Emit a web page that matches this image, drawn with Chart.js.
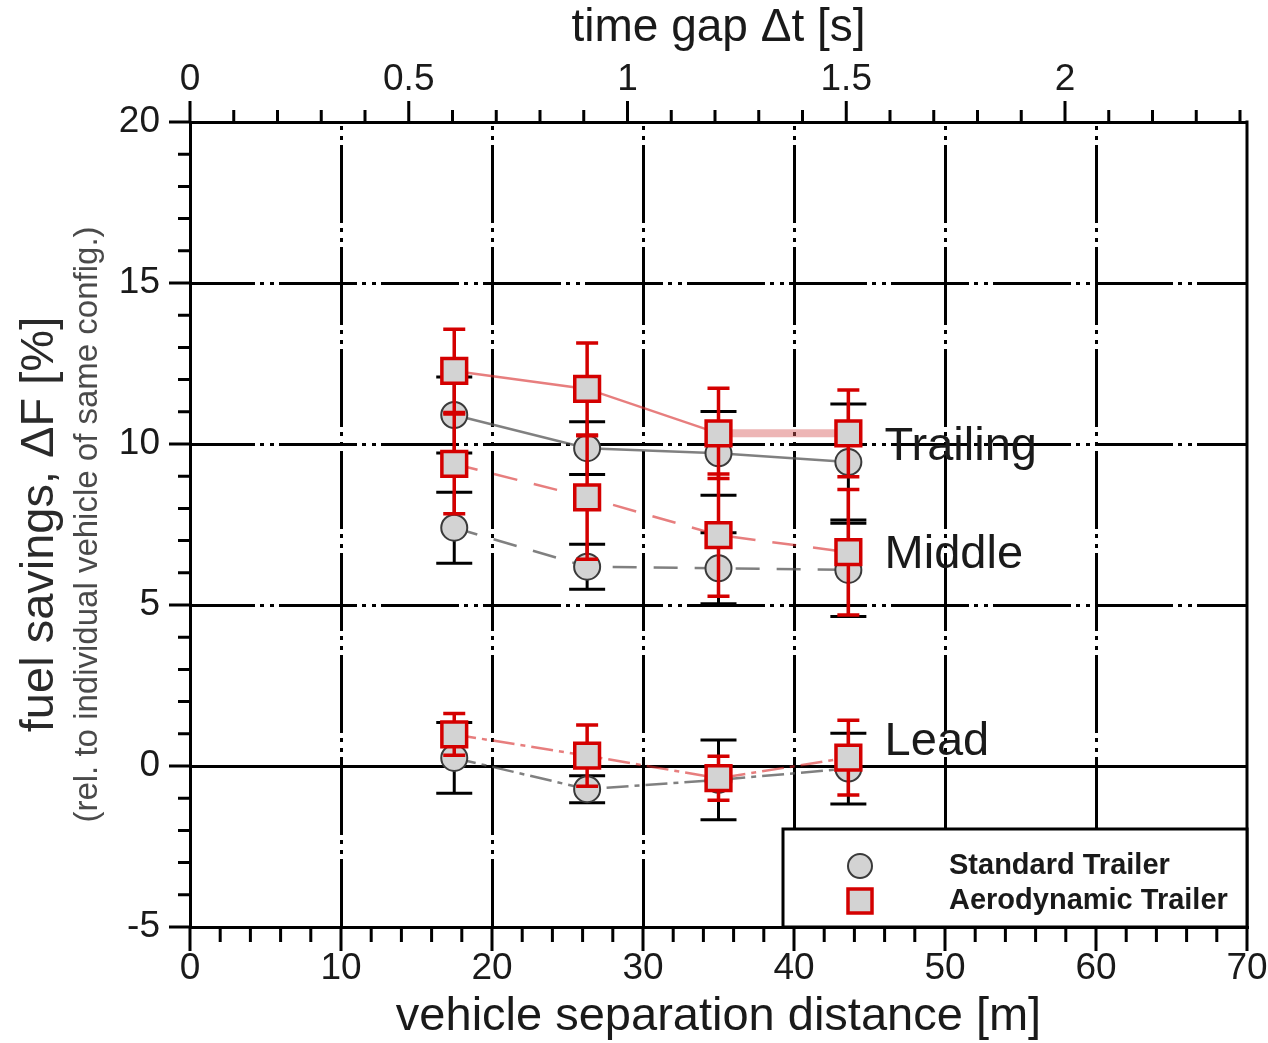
<!DOCTYPE html>
<html>
<head>
<meta charset="utf-8">
<title>fuel savings vs separation</title>
<script src="https://cdn.jsdelivr.net/npm/chart.js@4.4.1/dist/chart.umd.min.js"></script>
<style>
  html, body { margin: 0; padding: 0; background: #fff; }
  #wrap { width: 1268px; height: 1043px; }
</style>
</head>
<body>
<div id="wrap"><canvas id="fuelChart" width="1268" height="1043"></canvas></div>
<script>
// vehicle separation distance [m]
const distance = [17.5, 26.3, 35.0, 43.6];

// fuel savings [%] and error half-widths
const trailingStd = [10.9, 9.87, 9.71, 9.44];
const trailingStdErr = [1.18, 0.82, 1.3, 1.8];
const trailingAero = [12.27, 11.71, 10.33, 10.33];
const trailingAeroErr = [1.29, 1.43, 1.4, 1.35];

const middleStd = [7.4, 6.19, 6.14, 6.09];
const middleStdErr = [1.1, 0.7, 1.1, 1.45];
const middleAero = [9.38, 8.34, 7.17, 6.64];
const middleAeroErr = [1.55, 1.92, 1.9, 1.95];

const leadStd = [0.25, -0.72, -0.43, -0.08];
const leadStdErr = [1.1, 0.42, 1.24, 1.1];
const leadAero = [0.98, 0.32, -0.38, 0.26];
const leadAeroErr = [0.65, 0.95, 0.68, 1.16];

// axis ticks
const xTicks = [0, 10, 20, 30, 40, 50, 60, 70];
const yTicks = [-5, 0, 5, 10, 15, 20];
const timeTicks = [0, 0.5, 1, 1.5, 2];
const timeMax = 2.416;

// group labels, anchored in data units
const groupLabels = ['Trailing', 'Middle', 'Lead'];
const groupLabelY = [9.5, 6.15, 0.34];
const groupLabelX = 46.0;

const legendLabels = ['Standard Trailer', 'Aerodynamic Trailer'];

const RED = '#d40000';
const FILL = '#d3d3d3';
const GRID_DASH = [78, 5, 4, 6, 4, 5];
const FONT = "'Liberation Sans', Arial, Helvetica, sans-serif";

Chart.defaults.font.family = FONT;
Chart.defaults.color = '#1a1a1a';

function pts(ys) {
  return distance.map((x, i) => ({ x: x, y: ys[i] }));
}

function stdSet(label, ys, errs, dash) {
  return {
    label: label, data: pts(ys), errors: errs, barColor: '#000', capHalf: 18, barWidth: 3,
    borderColor: 'rgba(85,85,85,0.75)', borderWidth: 2.5, borderDash: dash,
    pointStyle: 'circle', pointRadius: 13, pointBackgroundColor: FILL,
    pointBorderColor: '#3a3a3a', pointBorderWidth: 2, order: 2
  };
}

function aeroSet(label, ys, errs, dash) {
  return {
    label: label, data: pts(ys), errors: errs, barColor: RED, capHalf: 11, barWidth: 3.5,
    borderColor: 'rgba(215,40,40,0.6)', borderWidth: 2.5, borderDash: dash,
    pointStyle: 'rect', pointRadius: 17.5, pointBackgroundColor: FILL,
    pointBorderColor: RED, pointBorderWidth: 3.5, order: 1
  };
}

const trailAero = aeroSet('Trailing aero', trailingAero, trailingAeroErr, []);
// flat segment shows as a wide pale band in the original
trailAero.segment = {
  borderWidth: c => c.p0.parsed.y === c.p1.parsed.y ? 8 : undefined,
  borderColor: c => c.p0.parsed.y === c.p1.parsed.y ? 'rgba(215,90,90,0.45)' : undefined
};

const datasets = [
  stdSet('Trailing std', trailingStd, trailingStdErr, []),
  stdSet('Middle std', middleStd, middleStdErr, [24, 17]),
  stdSet('Lead std', leadStd, leadStdErr, [22, 6, 5, 6]),
  trailAero,
  aeroSet('Middle aero', middleAero, middleAeroErr, [24, 17]),
  aeroSet('Lead aero', leadAero, leadAeroErr, [22, 6, 5, 6])
];

// error bars under each dataset's line and markers
const errorBars = {
  id: 'errorBars',
  beforeDatasetDraw(chart, args) {
    const ds = chart.data.datasets[args.index];
    if (!ds.errors) return;
    const ctx = chart.ctx;
    const y = chart.scales.y;
    ctx.save();
    ctx.strokeStyle = ds.barColor;
    ctx.lineWidth = ds.barWidth;
    ctx.setLineDash([]);
    args.meta.data.forEach((pt, i) => {
      const v = ds.data[i].y;
      const e = ds.errors[i];
      const yt = y.getPixelForValue(v + e);
      const yb = y.getPixelForValue(v - e);
      ctx.beginPath();
      ctx.moveTo(pt.x, yt); ctx.lineTo(pt.x, yb);
      ctx.moveTo(pt.x - ds.capHalf, yt); ctx.lineTo(pt.x + ds.capHalf, yt);
      ctx.moveTo(pt.x - ds.capHalf, yb); ctx.lineTo(pt.x + ds.capHalf, yb);
      ctx.stroke();
    });
    ctx.restore();
  }
};

// minor/major tick marks, right frame, y titles, group labels, legend box
const decorations = {
  id: 'decorations',
  afterDraw(chart) {
    const { ctx, chartArea: a, scales } = chart;
    const sx = scales.x, sy = scales.y, st = scales.x2;
    ctx.save();
    ctx.strokeStyle = '#000';
    ctx.lineWidth = 3;
    ctx.setLineDash([]);
    ctx.beginPath();
    for (let v = -5; v <= 20; v += 1) {
      const p = sy.getPixelForValue(v);
      const len = v % 5 === 0 ? 21 : 12;
      ctx.moveTo(a.left, p); ctx.lineTo(a.left - len, p);
    }
    for (let v = 0; v <= 70; v += 2) {
      const p = sx.getPixelForValue(v);
      const len = v % 10 === 0 ? 24 : 15;
      ctx.moveTo(p, a.bottom); ctx.lineTo(p, a.bottom + len);
    }
    for (let k = 0; k <= 24; k++) {
      const v = k / 10;
      const p = st.getPixelForValue(v);
      const len = k % 5 === 0 ? 21 : 12;
      ctx.moveTo(p, a.top); ctx.lineTo(p, a.top - len);
    }
    ctx.moveTo(a.right, a.top - 1.5); ctx.lineTo(a.right, a.bottom + 1.5);
    ctx.stroke();

    // y titles
    const cy = (a.top + a.bottom) / 2;
    ctx.save();
    ctx.translate(40, cy);
    ctx.rotate(-Math.PI / 2);
    ctx.textAlign = 'center';
    ctx.textBaseline = 'middle';
    ctx.fillStyle = '#2a2a2a';
    ctx.font = '47px ' + FONT;
    ctx.fillText('fuel savings, \u0394F [%]', 0, 0);
    ctx.restore();
    ctx.save();
    ctx.translate(88, cy);
    ctx.rotate(-Math.PI / 2);
    ctx.textAlign = 'center';
    ctx.textBaseline = 'middle';
    ctx.fillStyle = '#4a4a4a';
    ctx.font = '33px ' + FONT;
    ctx.fillText('(rel. to individual vehicle of same config.)', 0, 0);
    ctx.restore();

    // group labels
    ctx.fillStyle = '#1a1a1a';
    ctx.font = '47px ' + FONT;
    ctx.textAlign = 'left';
    ctx.textBaseline = 'alphabetic';
    groupLabels.forEach((t, i) => {
      ctx.fillText(t, sx.getPixelForValue(groupLabelX), sy.getPixelForValue(groupLabelY[i]));
    });

    // legend box
    const bx = 783, by = 829;
    ctx.fillStyle = '#fff';
    ctx.fillRect(bx, by, a.right - bx, a.bottom - by);
    ctx.strokeStyle = '#000';
    ctx.lineWidth = 3;
    ctx.strokeRect(bx, by, a.right - bx, a.bottom - by);

    ctx.beginPath();
    ctx.arc(860, 866, 12, 0, Math.PI * 2);
    ctx.fillStyle = FILL; ctx.fill();
    ctx.lineWidth = 2; ctx.strokeStyle = '#3a3a3a'; ctx.stroke();

    ctx.fillStyle = FILL;
    ctx.fillRect(848, 889, 24, 24);
    ctx.lineWidth = 3.5; ctx.strokeStyle = RED;
    ctx.strokeRect(848, 889, 24, 24);

    ctx.fillStyle = '#1a1a1a';
    ctx.font = 'bold 29px ' + FONT;
    ctx.textBaseline = 'middle';
    ctx.fillText(legendLabels[0], 949, 866);
    ctx.fillText(legendLabels[1], 949, 901);
    ctx.restore();
  }
};

const gridColor = (edges) => (c) => edges.includes(c.tick.value) ? 'rgba(0,0,0,0)' : '#000';
const gridDash = (c) => (c.tick && c.tick.value === 0) ? [] : GRID_DASH;

new Chart(document.getElementById('fuelChart'), {
  type: 'line',
  data: { datasets: datasets },
  plugins: [errorBars, decorations],
  options: {
    responsive: false,
    animation: false,
    events: [],
    layout: { padding: { left: 0, right: 21, top: 0, bottom: 0 } },
    plugins: { legend: { display: false }, tooltip: { enabled: false } },
    scales: {
      x: {
        type: 'linear', position: 'bottom', min: 0, max: 70,
        afterBuildTicks: s => { s.ticks = xTicks.map(v => ({ value: v })); },
        ticks: { font: { size: 37 }, padding: 20, color: '#1a1a1a', maxRotation: 0,
                 callback: v => String(v) },
        grid: { color: gridColor([0, 70]), lineWidth: 3, drawTicks: false },
        border: { display: true, color: '#000', width: 3, dash: GRID_DASH, dashOffset: 79 },
        title: { display: true, text: 'vehicle separation distance [m]',
                 font: { size: 47, lineHeight: 1 }, padding: { top: 0, bottom: 2 }, color: '#1a1a1a' },
        afterFit: s => { s.height = 116; s.paddingLeft = 0; s.paddingRight = 0; }
      },
      x2: {
        type: 'linear', position: 'top', min: 0, max: timeMax,
        afterBuildTicks: s => { s.ticks = timeTicks.map(v => ({ value: v })); },
        ticks: { font: { size: 37 }, padding: 20, color: '#1a1a1a', maxRotation: 0,
                 callback: v => String(v) },
        grid: { display: true, drawOnChartArea: false, drawTicks: false },
        border: { display: true, color: '#000', width: 3 },
        title: { display: true, text: 'time gap \u0394t [s]',
                 font: { size: 46, lineHeight: 1 }, padding: { top: 5, bottom: 0 }, color: '#1a1a1a' },
        afterFit: s => { s.height = 122; s.paddingLeft = 0; s.paddingRight = 0; }
      },
      y: {
        type: 'linear', position: 'left', min: -5, max: 20,
        afterBuildTicks: s => { s.ticks = yTicks.map(v => ({ value: v })); },
        ticks: { font: { size: 37 }, padding: 30, color: '#1a1a1a' },
        grid: { color: gridColor([-5, 20]), lineWidth: 3, drawTicks: false },
        border: { display: true, color: '#000', width: 3, dash: gridDash, dashOffset: 15 },
        afterFit: s => { s.width = 190; s.paddingTop = 0; s.paddingBottom = 0; }
      }
    }
  }
});
</script>
</body>
</html>
